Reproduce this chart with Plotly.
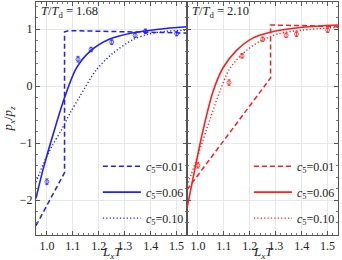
import plotly.graph_objects as go

# ---------------- data ----------------
pts_x = [1.0, 1.12, 1.17, 1.25, 1.34, 1.38, 1.50]
blue_pts_y = [-1.68, 0.47, 0.64, 0.77, 0.89, 0.96, 0.92]
red_pts_y = [-1.39, 0.06, 0.53, 0.82, 0.89, 0.91, 0.98]
pts_err = [0.05, 0.05, 0.04, 0.04, 0.04, 0.04, 0.04]

blue_dash_x = [0.958, 1.068, 1.068, 1.08, 1.1, 1.2, 1.3, 1.4, 1.54]
blue_dash_y = [-2.45, -1.52, 0.95, 0.965, 0.97, 0.96, 0.95, 0.94, 0.93]
blue_solid_x = [0.958, 0.986, 1.031, 1.069, 1.113, 1.164, 1.24, 1.328, 1.458, 1.54]
blue_solid_y = [-1.97, -1.45, -0.74, -0.19, 0.31, 0.60, 0.82, 0.93, 1.01, 1.04]
blue_dot_x = [0.958, 0.985, 1.02, 1.056, 1.09, 1.126, 1.19, 1.253, 1.33, 1.39, 1.46, 1.54]
blue_dot_y = [-1.69, -1.38, -1.05, -0.77, -0.47, -0.19, 0.28, 0.57, 0.81, 0.91, 0.96, 0.98]

red_dash_x = [0.958, 1.28, 1.28, 1.3, 1.4, 1.54]
red_dash_y = [-1.82, 0.14, 1.07, 1.07, 1.06, 1.04]
red_solid_x = [0.957, 0.99, 1.020, 1.058, 1.097, 1.148, 1.211, 1.275, 1.402, 1.54]
red_solid_y = [-2.17, -1.42, -0.77, -0.10, 0.32, 0.62, 0.84, 0.94, 1.03, 1.07]
red_dot_x = [0.958, 0.99, 1.033, 1.084, 1.122, 1.173, 1.237, 1.313, 1.402, 1.54]
red_dot_y = [-1.75, -1.35, -0.77, -0.10, 0.30, 0.57, 0.78, 0.92, 0.98, 1.03]

c5_labels = ["0.01", "0.06", "0.10"]
temps = ["1.68", "2.10"]
x_ticks = [1.0, 1.1, 1.2, 1.3, 1.4, 1.5]
y_ticks = [-2, -1, 0, 1]

BLUE = "#1f1fff"
RED = "#ff1f1f"
FONT = "Liberation Serif"

fig = go.Figure()

def add_panel(xa, ya, color, dash, solid, dot, pts_y, leg):
    styles = [("5px,3px", 1.5, "linear"), ("solid", 1.6, "spline"), ("1.2px,2.2px", 1.4, "spline")]
    for (xs, ys), lab, (d, w, sh), g in zip([dash, solid, dot], c5_labels, styles, range(3)):
        fig.add_trace(go.Scatter(
            x=xs, y=ys, mode="lines", xaxis=xa, yaxis=ya,
            line=dict(color=color, width=w, dash=d, shape=sh, smoothing=0.8),
            name=f"<i>c</i><sub>5</sub>=" + lab, legend=leg,
            legendgroup=f"{leg}{g}"))
    fig.add_trace(go.Scatter(
        x=pts_x, y=pts_y, mode="markers", xaxis=xa, yaxis=ya, showlegend=False,
        marker=dict(symbol="circle-open", size=4, color=color, opacity=0.7,
                    line=dict(width=1)),
        error_y=dict(type="data", array=pts_err, color=color, thickness=0.8, width=1.5)))

add_panel("x", "y", BLUE, (blue_dash_x, blue_dash_y), (blue_solid_x, blue_solid_y),
          (blue_dot_x, blue_dot_y), blue_pts_y, "legend")
add_panel("x2", "y2", RED, (red_dash_x, red_dash_y), (red_solid_x, red_solid_y),
          (red_dot_x, red_dot_y), red_pts_y, "legend2")

axis_common = dict(
    showline=True, linecolor="#555", linewidth=1, mirror="allticks",
    ticks="inside", ticklen=4, tickcolor="#555",
    showgrid=True, gridcolor="#e8e8e8", gridwidth=1, zeroline=False,
    tickfont=dict(family=FONT, size=12, color="#222"),
)
xcommon = dict(axis_common, range=[0.958, 1.54], tickvals=x_ticks,
               ticktext=[f"{v:.1f}" for v in x_ticks],
               minor=dict(ticks="inside", ticklen=2, dtick=0.02, tick0=1.0, tickcolor="#777"))
ycommon = dict(axis_common, range=[-2.614, 1.474], tickvals=y_ticks,
               minor=dict(ticks="inside", ticklen=2, dtick=0.2, tick0=0, tickcolor="#777"))

leg_common = dict(bgcolor="rgba(0,0,0,0)", font=dict(family=FONT, size=12, color="#222"),
                  tracegroupgap=7, itemwidth=38, yanchor="bottom", y=0.01,
                  xanchor="left")

annotations = [
    dict(text=f"<i>T</i>/<i>T</i><sub>d</sub> = {t}", xref=f"{xr} domain", yref="y domain",
         x=0.02, y=1.0, xanchor="left", yanchor="top", showarrow=False,
         font=dict(family=FONT, size=12.5, color="#222"))
    for t, xr in zip(temps, ["x", "x2"])
] + [
    dict(text="<i>L</i><sub><i>x</i></sub><i>T</i>", xref=f"{xr} domain", yref="y domain",
         x=0.5, y=-0.074, xanchor="center", yanchor="middle", showarrow=False,
         font=dict(family=FONT, size=13, color="#222"))
    for xr in ["x", "x2"]
]

fig.update_layout(
    width=342, height=260,
    margin=dict(l=36, r=2, t=2, b=25),
    paper_bgcolor="white", plot_bgcolor="white",
    font=dict(family=FONT, size=12, color="#222"),
    xaxis=dict(xcommon, domain=[0, 0.5], anchor="y"),
    xaxis2=dict(xcommon, domain=[0.5, 1], anchor="y2"),
    yaxis=dict(ycommon, anchor="x",
               title=dict(text="<i>p</i><sub><i>x</i></sub>/<i>p</i><sub><i>z</i></sub>",
                          standoff=9, font=dict(family=FONT, size=13, color="#222"))),
    yaxis2=dict(ycommon, anchor="x2", matches="y", showticklabels=False),
    legend=dict(leg_common, x=0.205),
    legend2=dict(leg_common, x=0.705),
    annotations=annotations,
)

fig.write_html("out.html", config={"displayModeBar": False},
               post_script="document.body.style.margin='0';document.body.style.overflow='hidden';")
